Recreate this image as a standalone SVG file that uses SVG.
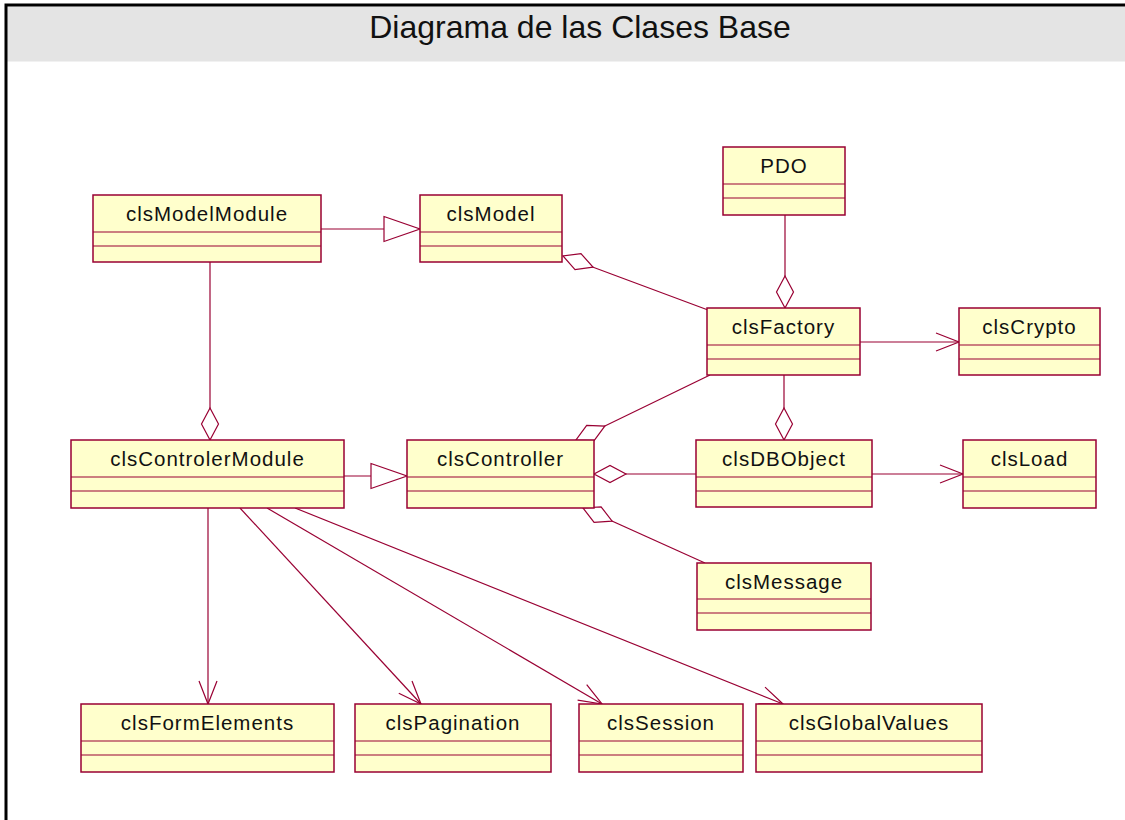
<svg xmlns="http://www.w3.org/2000/svg" width="1125" height="820" viewBox="0 0 1125 820">
  <style>
    .box { fill: #ffffcc; stroke: #990033; stroke-width: 1.5; }
    .sep { stroke: #990033; stroke-width: 1.2; }
    .name { font-family: "Liberation Sans", Arial, sans-serif; font-size: 20.5px; letter-spacing: 1px; fill: #111; text-anchor: middle; }
    .title { font-family: "Liberation Sans", Arial, sans-serif; font-size: 32px; fill: #111; text-anchor: middle; }
    .conn { fill: none; stroke: #990033; stroke-width: 1.2; }
  </style>
  <defs>
    <!-- hollow diamond: aggregation end, tip at the owning class -->
    <marker id="agg" markerUnits="userSpaceOnUse" markerWidth="40" markerHeight="40" viewBox="-34 -20 40 40" refX="0" refY="0" orient="auto" overflow="visible">
      <path d="M-32,0 L-16,-8.5 L0,0 L-16,8.5 Z" fill="#ffffff" stroke="#990033" stroke-width="1.2"/>
    </marker>
    <!-- open arrowhead: navigable association -->
    <marker id="open" markerUnits="userSpaceOnUse" markerWidth="40" markerHeight="40" viewBox="-30 -20 40 40" refX="0" refY="0" orient="auto" overflow="visible">
      <path d="M-23,-9 L0,0 L-23,9" fill="none" stroke="#990033" stroke-width="1.2"/>
    </marker>
    <!-- hollow triangle: generalization -->
    <marker id="gen" markerUnits="userSpaceOnUse" markerWidth="50" markerHeight="40" viewBox="-40 -20 50 40" refX="0" refY="0" orient="auto" overflow="visible">
      <path d="M-36,-12.5 L0,0 L-36,12.5 Z" fill="#ffffff" stroke="#990033" stroke-width="1.2"/>
    </marker>
  </defs>

  <rect x="0" y="0" width="1125" height="820" fill="#ffffff"/>

  <!-- diagram frame and title bar -->
  <g id="frame">
    <rect x="7" y="6.5" width="1118" height="55" fill="#e4e4e4"/>
    <path d="M6,820 V5 H1125" fill="none" stroke="#000000" stroke-width="3"/>
    <text class="title" x="580" y="38">Diagrama de las Clases Base</text>
  </g>

  <!-- connectors -->
  <g id="connectors">
    <path class="conn" d="M321,229 L420,229" marker-end="url(#gen)"/>
    <path class="conn" d="M708,310 L563,256" marker-end="url(#agg)"/>
    <path class="conn" d="M785,215 L785,308" marker-end="url(#agg)"/>
    <path class="conn" d="M860,342 L959,342" marker-end="url(#open)"/>
    <path class="conn" d="M210,262 L210,440" marker-end="url(#agg)"/>
    <path class="conn" d="M710,375 L576,440" marker-end="url(#agg)"/>
    <path class="conn" d="M784,375 L784,440" marker-end="url(#agg)"/>
    <path class="conn" d="M344,476 L407,476" marker-end="url(#gen)"/>
    <path class="conn" d="M696,474 L594,474" marker-end="url(#agg)"/>
    <path class="conn" d="M872,474 L963,474" marker-end="url(#open)"/>
    <path class="conn" d="M705,563 L583,508" marker-end="url(#agg)"/>
    <path class="conn" d="M208,508 L208,704" marker-end="url(#open)"/>
    <path class="conn" d="M240,508 L421,704" marker-end="url(#open)"/>
    <path class="conn" d="M267,508 L602,704" marker-end="url(#open)"/>
    <path class="conn" d="M295,508 L783,704" marker-end="url(#open)"/>
  </g>

  <!-- classes: name compartment, attributes, operations -->
  <g id="clsModelModule" transform="translate(93,195)">
    <rect class="box" width="228" height="67"/>
    <line class="sep" x1="0" y1="37" x2="228" y2="37"/>
    <line class="sep" x1="0" y1="51" x2="228" y2="51"/>
    <text class="name" x="114" y="26">clsModelModule</text>
  </g>
  <g id="clsModel" transform="translate(420,195)">
    <rect class="box" width="142" height="67"/>
    <line class="sep" x1="0" y1="37" x2="142" y2="37"/>
    <line class="sep" x1="0" y1="51" x2="142" y2="51"/>
    <text class="name" x="71" y="26">clsModel</text>
  </g>
  <g id="PDO" transform="translate(723,147)">
    <rect class="box" width="122" height="68"/>
    <line class="sep" x1="0" y1="37" x2="122" y2="37"/>
    <line class="sep" x1="0" y1="51" x2="122" y2="51"/>
    <text class="name" x="61" y="26">PDO</text>
  </g>
  <g id="clsFactory" transform="translate(707,308)">
    <rect class="box" width="153" height="67"/>
    <line class="sep" x1="0" y1="37" x2="153" y2="37"/>
    <line class="sep" x1="0" y1="51" x2="153" y2="51"/>
    <text class="name" x="76.5" y="26">clsFactory</text>
  </g>
  <g id="clsCrypto" transform="translate(959,308)">
    <rect class="box" width="141" height="67"/>
    <line class="sep" x1="0" y1="37" x2="141" y2="37"/>
    <line class="sep" x1="0" y1="51" x2="141" y2="51"/>
    <text class="name" x="70.5" y="26">clsCrypto</text>
  </g>
  <g id="clsControlerModule" transform="translate(71,440)">
    <rect class="box" width="273" height="68"/>
    <line class="sep" x1="0" y1="37" x2="273" y2="37"/>
    <line class="sep" x1="0" y1="51" x2="273" y2="51"/>
    <text class="name" x="136.5" y="26">clsControlerModule</text>
  </g>
  <g id="clsController" transform="translate(407,440)">
    <rect class="box" width="187" height="68"/>
    <line class="sep" x1="0" y1="37" x2="187" y2="37"/>
    <line class="sep" x1="0" y1="51" x2="187" y2="51"/>
    <text class="name" x="93.5" y="26">clsController</text>
  </g>
  <g id="clsDBObject" transform="translate(696,440)">
    <rect class="box" width="176" height="67"/>
    <line class="sep" x1="0" y1="37" x2="176" y2="37"/>
    <line class="sep" x1="0" y1="51" x2="176" y2="51"/>
    <text class="name" x="88" y="26">clsDBObject</text>
  </g>
  <g id="clsLoad" transform="translate(963,440)">
    <rect class="box" width="133" height="68"/>
    <line class="sep" x1="0" y1="37" x2="133" y2="37"/>
    <line class="sep" x1="0" y1="51" x2="133" y2="51"/>
    <text class="name" x="66.5" y="26">clsLoad</text>
  </g>
  <g id="clsMessage" transform="translate(697,563)">
    <rect class="box" width="174" height="67"/>
    <line class="sep" x1="0" y1="36" x2="174" y2="36"/>
    <line class="sep" x1="0" y1="50" x2="174" y2="50"/>
    <text class="name" x="87" y="26">clsMessage</text>
  </g>
  <g id="clsFormElements" transform="translate(81,704)">
    <rect class="box" width="253" height="68"/>
    <line class="sep" x1="0" y1="37" x2="253" y2="37"/>
    <line class="sep" x1="0" y1="51" x2="253" y2="51"/>
    <text class="name" x="126.5" y="26">clsFormElements</text>
  </g>
  <g id="clsPagination" transform="translate(355,704)">
    <rect class="box" width="196" height="68"/>
    <line class="sep" x1="0" y1="37" x2="196" y2="37"/>
    <line class="sep" x1="0" y1="51" x2="196" y2="51"/>
    <text class="name" x="98" y="26">clsPagination</text>
  </g>
  <g id="clsSession" transform="translate(579,704)">
    <rect class="box" width="164" height="68"/>
    <line class="sep" x1="0" y1="37" x2="164" y2="37"/>
    <line class="sep" x1="0" y1="51" x2="164" y2="51"/>
    <text class="name" x="82" y="26">clsSession</text>
  </g>
  <g id="clsGlobalValues" transform="translate(756,704)">
    <rect class="box" width="226" height="68"/>
    <line class="sep" x1="0" y1="37" x2="226" y2="37"/>
    <line class="sep" x1="0" y1="51" x2="226" y2="51"/>
    <text class="name" x="113" y="26">clsGlobalValues</text>
  </g>
</svg>
